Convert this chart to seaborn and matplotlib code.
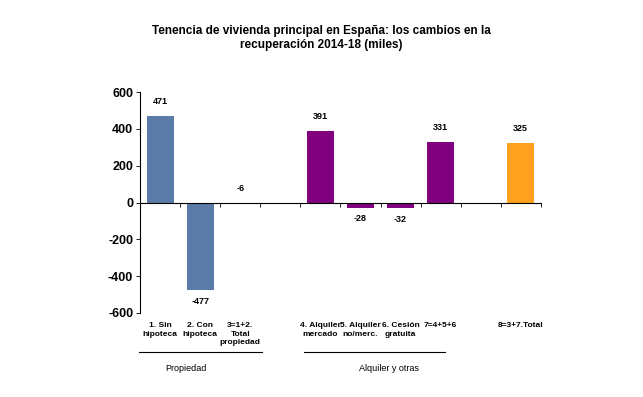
import seaborn as sns
import matplotlib.pyplot as plt
import pandas as pd

# datos (miles)
categorias = ["1", "2", "3", "4", "5", "6", "7", "8"]
valores = [471, -477, -6, 391, -28, -32, 331, 325]
grupos = ["prop", "prop", "prop", "alq", "alq", "alq", "alq", "tot"]
etiquetas = ["1. Sin\nhipoteca", "2. Con\nhipoteca", "3=1+2.\nTotal\npropiedad",
             "4. Alquiler\nmercado", "5. Alquiler\nno/merc.", "6. Cesión\ngratuita",
             "7=4+5+6", "8=3+7.Total"]
orden = ["1", "2", "3", "_a", "4", "5", "6", "7", "_b", "8"]
colores = {"prop": "#5b7ba8", "alq": "#800080", "tot": "#ffa11e"}

df = pd.DataFrame({"cat": categorias, "valor": valores, "grupo": grupos})

plt.rcParams['font.family'] = ['Liberation Sans', 'DejaVu Sans']
fig = plt.figure(figsize=(6.43, 3.97), dpi=100)
ax = fig.add_axes([0.218, 0.2116, 0.623, 0.5566])

sns.barplot(data=df, x="cat", y="valor", hue="grupo", order=orden,
            palette=colores, dodge=False, legend=False, width=0.68,
            saturation=1, ax=ax)

ax.set_ylim(-600, 600)
ax.set_xlim(-0.5, len(orden) - 0.5)
ax.set_yticks([600, 400, 200, 0, -200, -400, -600])
ax.set_yticklabels(["600", "400", "200", "0", "-200", "-400", "-600"],
                   fontsize=9, fontweight="bold")
ax.set_xlabel("")
ax.set_ylabel("")
for s in ["top", "right"]:
    ax.spines[s].set_visible(False)
ax.spines["bottom"].set_position(("data", 0))
ax.spines["left"].set_linewidth(0.8)
ax.spines["bottom"].set_linewidth(0.8)
ax.tick_params(axis="y", length=3, width=0.6, pad=2)
ax.set_xticks([i + 0.5 for i in range(-1, len(orden))])
ax.set_xticklabels([])
ax.tick_params(axis="x", length=3, width=0.6)

# etiquetas de valor
for c, v in zip(categorias, valores):
    i = orden.index(c)
    if v >= -10:
        y = max(v, 0) + 75
    else:
        y = v - 60
    ax.text(i, y, str(v), ha="center", va="center", fontsize=6.5,
            fontweight="bold")

# etiquetas de categorías
for c, t in zip(categorias, etiquetas):
    i = orden.index(c)
    ax.text(i, -650, t, ha="center", va="top", fontsize=6, fontweight="bold",
            linespacing=1.3, multialignment="center")

# líneas de grupo
ax.plot([-0.52, 2.55], [-810, -810], color="black", lw=0.8, clip_on=False)
ax.plot([3.6, 7.1], [-810, -810], color="black", lw=0.8, clip_on=False)
ax.text(0.65, -900, "Propiedad", ha="center", va="center", fontsize=6.5)
ax.text(5.7, -900, "Alquiler y otras", ha="center", va="center", fontsize=6.5)

fig.text(0.5, 0.904, "Tenencia de vivienda principal en España: los cambios en la\n"
         "recuperación 2014-18 (miles)", ha="center", va="center",
         fontsize=8.5, fontweight="bold", linespacing=1.3)

fig.savefig("out.png", dpi=100)
